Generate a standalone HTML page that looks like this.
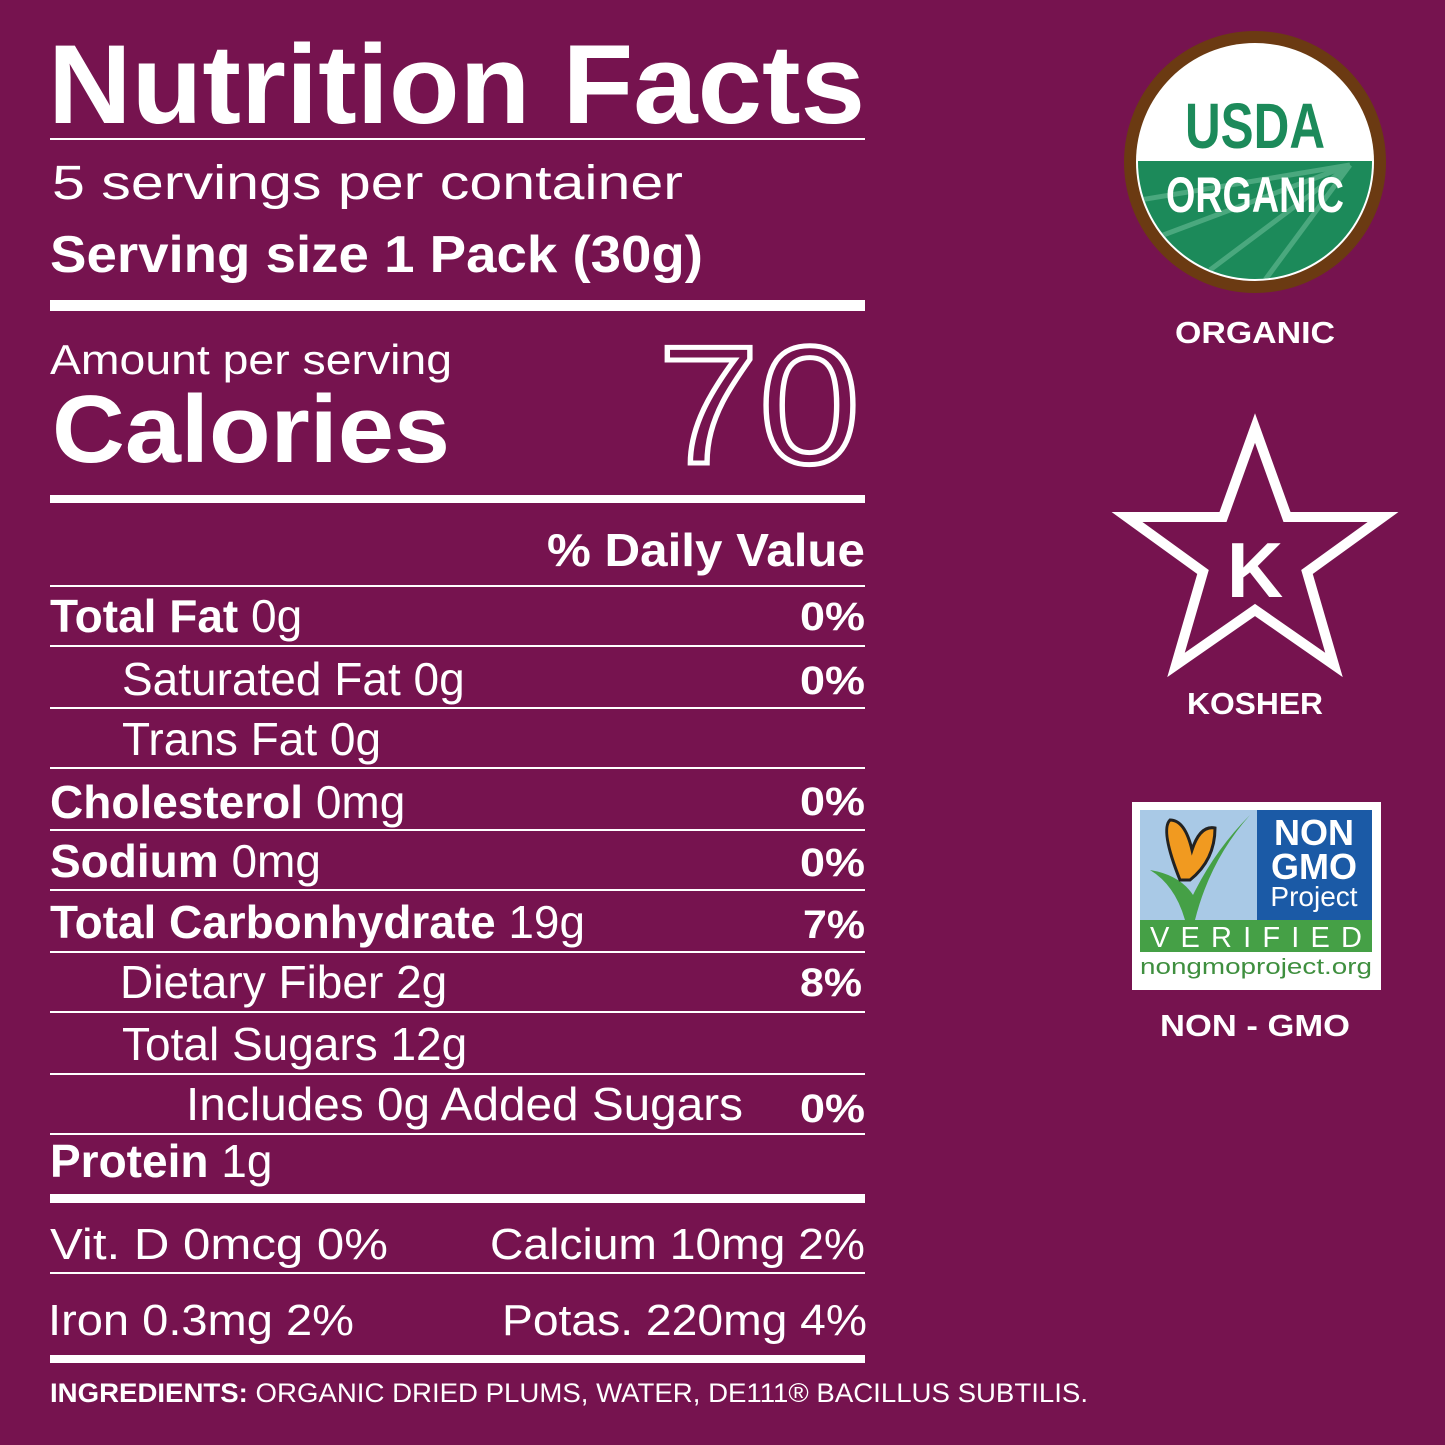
<!DOCTYPE html>
<html><head><meta charset="utf-8"><style>
html,body{margin:0;padding:0;background:#76134f;}
svg{display:block}
text{font-family:"Liberation Sans",sans-serif;fill:#fff}
.b{font-weight:bold}
</style></head><body>
<svg width="1445" height="1445" viewBox="0 0 1445 1445" xmlns="http://www.w3.org/2000/svg">
<rect width="1445" height="1445" fill="#76134f"/>
<g fill="#fff">
<rect x="50" y="138" width="815" height="2"/>
<rect x="50" y="300" width="815" height="11"/>
<rect x="50" y="495" width="815" height="8"/>
<rect x="50" y="585" width="815" height="2"/>
<rect x="50" y="645" width="815" height="2"/>
<rect x="50" y="707" width="815" height="2"/>
<rect x="50" y="767" width="815" height="2"/>
<rect x="50" y="829" width="815" height="2"/>
<rect x="50" y="889" width="815" height="2"/>
<rect x="50" y="951" width="815" height="2"/>
<rect x="50" y="1011" width="815" height="2"/>
<rect x="50" y="1073" width="815" height="2"/>
<rect x="50" y="1133" width="815" height="2"/>
<rect x="50" y="1194" width="815" height="9"/>
<rect x="50" y="1272" width="815" height="2"/>
<rect x="50" y="1355" width="815" height="8"/>
</g>
<text x="48" y="123" class="b" font-size="112" textLength="817" lengthAdjust="spacingAndGlyphs">Nutrition Facts</text>
<text x="52" y="199" font-size="48" textLength="631" lengthAdjust="spacingAndGlyphs">5 servings per container</text>
<text x="50" y="272" class="b" font-size="52" textLength="653" lengthAdjust="spacingAndGlyphs">Serving size 1 Pack (30g)</text>
<text x="50" y="374" font-size="42" textLength="402" lengthAdjust="spacingAndGlyphs">Amount per serving</text>
<text x="52" y="462" class="b" font-size="96" textLength="398" lengthAdjust="spacingAndGlyphs">Calories</text>
<text x="658" y="463" font-size="168" style="fill:none;stroke:#fff;stroke-width:5" textLength="202" lengthAdjust="spacingAndGlyphs">70</text>
<text x="865" y="566" class="b" font-size="46" text-anchor="end" textLength="318" lengthAdjust="spacingAndGlyphs">% Daily Value</text>
<g font-size="46">
<text x="50" y="632"><tspan class="b">Total Fat</tspan> 0g</text>
<text x="122" y="695">Saturated Fat 0g</text>
<text x="122" y="755">Trans Fat 0g</text>
<text x="50" y="818"><tspan class="b">Cholesterol</tspan> 0mg</text>
<text x="50" y="877"><tspan class="b">Sodium</tspan> 0mg</text>
<text x="50" y="938" textLength="535" lengthAdjust="spacingAndGlyphs"><tspan class="b">Total Carbonhydrate</tspan> 19g</text>
<text x="120" y="998">Dietary Fiber 2g</text>
<text x="122" y="1060">Total Sugars 12g</text>
<text x="186" y="1120" textLength="557" lengthAdjust="spacingAndGlyphs">Includes 0g Added Sugars</text>
<text x="50" y="1177"><tspan class="b">Protein</tspan> 1g</text>
</g>
<g font-size="40" class="b">
<text x="800" y="630" textLength="65" lengthAdjust="spacingAndGlyphs">0%</text>
<text x="800" y="694" textLength="65" lengthAdjust="spacingAndGlyphs">0%</text>
<text x="800" y="815" textLength="65" lengthAdjust="spacingAndGlyphs">0%</text>
<text x="800" y="876" textLength="65" lengthAdjust="spacingAndGlyphs">0%</text>
<text x="803" y="938" textLength="62" lengthAdjust="spacingAndGlyphs">7%</text>
<text x="800" y="996" textLength="62" lengthAdjust="spacingAndGlyphs">8%</text>
<text x="800" y="1122" textLength="65" lengthAdjust="spacingAndGlyphs">0%</text>
</g>
<g font-size="44">
<text x="50" y="1259" textLength="338" lengthAdjust="spacingAndGlyphs">Vit. D 0mcg 0%</text>
<text x="490" y="1259" textLength="375" lengthAdjust="spacingAndGlyphs">Calcium 10mg 2%</text>
<text x="48" y="1335" textLength="306" lengthAdjust="spacingAndGlyphs">Iron 0.3mg 2%</text>
<text x="502" y="1335" textLength="365" lengthAdjust="spacingAndGlyphs">Potas. 220mg 4%</text>
</g>
<text x="50" y="1402" font-size="27" textLength="1038" lengthAdjust="spacingAndGlyphs"><tspan class="b">INGREDIENTS:</tspan> ORGANIC DRIED PLUMS, WATER, DE111® BACILLUS SUBTILIS.</text>

<!-- USDA -->
<circle cx="1255" cy="162" r="131" fill="#6b3a12"/>
<circle cx="1255" cy="162" r="119" fill="#fff"/>
<clipPath id="c"><circle cx="1255" cy="162" r="117"/></clipPath>
<rect x="1130" y="161" width="250" height="130" fill="#1c8a5a" clip-path="url(#c)"/>
<g clip-path="url(#c)" stroke="#5fb58d" stroke-width="5" opacity="0.7">
<line x1="1350" y1="165" x2="1140" y2="200"/>
<line x1="1350" y1="165" x2="1150" y2="240"/>
<line x1="1350" y1="165" x2="1210" y2="270"/>
<line x1="1350" y1="165" x2="1265" y2="280"/>
</g>
<text x="1255" y="148" text-anchor="middle" class="b" font-size="64" style="fill:#1c8a5a" textLength="140" lengthAdjust="spacingAndGlyphs">USDA</text>
<text x="1255" y="212" text-anchor="middle" class="b" font-size="50" textLength="178" lengthAdjust="spacingAndGlyphs">ORGANIC</text>
<text x="1255" y="343" text-anchor="middle" class="b" font-size="31" textLength="160" lengthAdjust="spacingAndGlyphs">ORGANIC</text>

<!-- Kosher -->
<polygon points="1255,428 1287,517 1383,517 1307,572 1334,665 1255,610 1176,665 1203,572 1127,517 1223,517" fill="none" stroke="#fff" stroke-width="10" stroke-linejoin="miter"/>
<text x="1255" y="597" text-anchor="middle" class="b" font-size="78">K</text>
<text x="1255" y="714" text-anchor="middle" class="b" font-size="31" textLength="136" lengthAdjust="spacingAndGlyphs">KOSHER</text>

<!-- Non GMO -->
<rect x="1132" y="802" width="249" height="188" fill="#fff"/>
<rect x="1140" y="810" width="117" height="110" fill="#a9c9e6"/>
<rect x="1257" y="810" width="115" height="110" fill="#1b5aa6"/>
<rect x="1140" y="920" width="232" height="32" fill="#45a046"/>
<path d="M1150,870 Q1175,885 1185,920 L1195,920 Q1210,860 1250,815 Q1215,850 1193,895 Q1180,875 1150,870Z" fill="#45a046"/>
<path d="M1180,880 Q1160,830 1170,820 Q1185,820 1192,850 Q1200,825 1215,828 Q1215,860 1190,880Z" fill="#f19a20" stroke="#222" stroke-width="3"/>
<text x="1314" y="845" text-anchor="middle" class="b" font-size="36">NON</text>
<text x="1314" y="879" text-anchor="middle" class="b" font-size="36">GMO</text>
<text x="1314" y="906" text-anchor="middle" font-size="28">Project</text>
<text x="1256" y="947" text-anchor="middle" font-size="29" textLength="212" lengthAdjust="spacing">VERIFIED</text>
<text x="1256" y="974" text-anchor="middle" font-size="22" style="fill:#3f8f3f" textLength="232" lengthAdjust="spacingAndGlyphs">nongmoproject.org</text>
<text x="1255" y="1036" text-anchor="middle" class="b" font-size="31" textLength="190" lengthAdjust="spacingAndGlyphs">NON - GMO</text>
</svg>
</body></html>
